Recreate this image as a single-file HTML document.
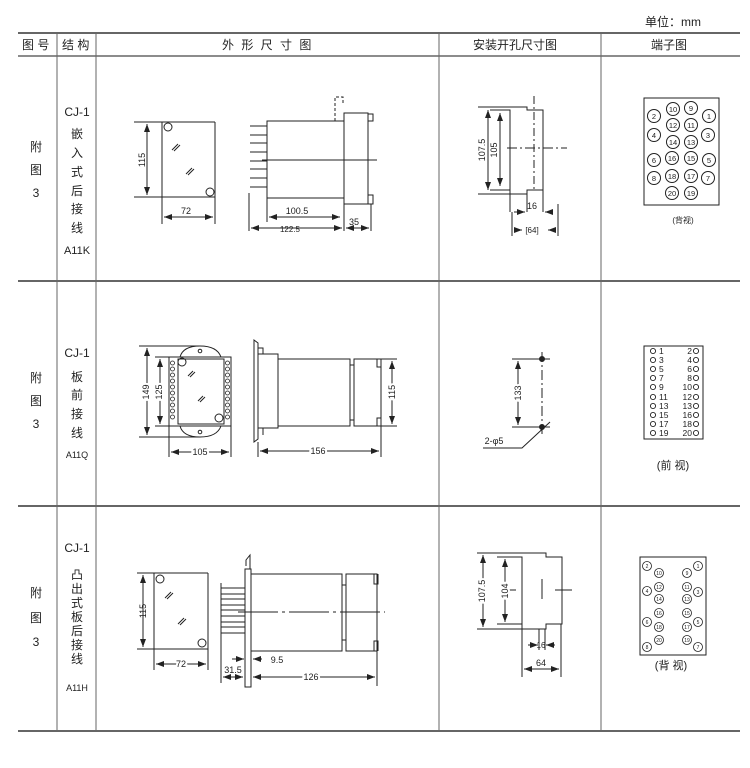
<!DOCTYPE html>
<html><head><meta charset="utf-8"><style>
html,body{margin:0;padding:0;background:#fff;}
svg{display:block;}
text{font-family:"Liberation Sans","Noto Sans CJK SC",sans-serif;fill:#222;}
</style></head><body>
<svg width="750" height="768" viewBox="0 0 750 768" xmlns="http://www.w3.org/2000/svg">
<defs>
<marker id="a" markerWidth="8" markerHeight="6" refX="8" refY="3" orient="auto-start-reverse" markerUnits="userSpaceOnUse"><path d="M0,0 L8,3 L0,6z" fill="#222"/></marker>
</defs>
<!-- table -->
<g stroke="#666" fill="none">
<line x1="18" y1="33" x2="740" y2="33" stroke-width="2"/>
<line x1="18" y1="56" x2="740" y2="56" stroke-width="1.5"/>
<line x1="18" y1="281" x2="740" y2="281" stroke-width="2"/>
<line x1="18" y1="506" x2="740" y2="506" stroke-width="2"/>
<line x1="18" y1="731" x2="740" y2="731" stroke-width="2"/>
<line x1="57" y1="33" x2="57" y2="731"/>
<line x1="96" y1="33" x2="96" y2="731"/>
<line x1="439" y1="33" x2="439" y2="731"/>
<line x1="601" y1="33" x2="601" y2="731"/>
</g>
<g font-size="12">
<text x="645" y="26">单位：mm</text>
<text x="22" y="49">图 号</text>
<text x="62" y="49">结 构</text>
<text x="222" y="49" letter-spacing="2">外 形 尺 寸 图</text>
<text x="473" y="49">安装开孔尺寸图</text>
<text x="651" y="49">端子图</text>
</g>
<!-- left columns -->
<g font-size="12" text-anchor="middle">
<text x="36" y="151">附</text><text x="36" y="174">图</text><text x="36" y="197">3</text>
<text x="77" y="116">CJ-1</text>
<text x="77" y="138">嵌</text><text x="77" y="157">入</text><text x="77" y="176">式</text><text x="77" y="195">后</text><text x="77" y="213">接</text><text x="77" y="232">线</text>
<text x="77" y="254" font-size="11">A11K</text>

<text x="36" y="382">附</text><text x="36" y="405">图</text><text x="36" y="428">3</text>
<text x="77" y="357">CJ-1</text>
<text x="77" y="381">板</text><text x="77" y="399">前</text><text x="77" y="418">接</text><text x="77" y="437">线</text>
<text x="77" y="458" font-size="9">A11Q</text>

<text x="36" y="597">附</text><text x="36" y="622">图</text><text x="36" y="646">3</text>
<text x="77" y="552">CJ-1</text>
<text x="77" y="579">凸</text><text x="77" y="593">出</text><text x="77" y="607">式</text><text x="77" y="621">板</text><text x="77" y="635">后</text><text x="77" y="649">接</text><text x="77" y="663">线</text>
<text x="77" y="691" font-size="9">A11H</text>
</g>

<g stroke="#222" fill="none" stroke-width="1">
<!-- ROW1 front -->
<line x1="134" y1="122" x2="215" y2="122"/><line x1="134" y1="197" x2="215" y2="197"/>
<line x1="162" y1="122" x2="162" y2="224"/><line x1="215" y1="122" x2="215" y2="224"/>
<circle cx="168" cy="127" r="4"/><circle cx="210" cy="192" r="4"/>
<path d="M172,150 l6,-6 M174,151 l6,-6 M186,174 l6,-6 M188,175 l6,-6"/>
<line x1="147" y1="124" x2="147" y2="195" marker-start="url(#a)" marker-end="url(#a)"/>
<line x1="164" y1="217" x2="213" y2="217" marker-start="url(#a)" marker-end="url(#a)"/>
<!-- ROW1 side -->
<path d="M250,126h17 M250,135h17 M250,143h17 M250,152h17 M250,161h17 M250,169h17 M250,178h17 M250,187h17"/>
<rect x="267" y="121" width="77" height="77"/>
<rect x="344" y="113" width="24" height="91"/>
<path d="M368,114h5v7h-5 M368,195h5v9h-5"/>
<path d="M335,121v-24h8v6" stroke-dasharray="3,2"/>
<line x1="262" y1="160" x2="377" y2="160"/>
<line x1="249" y1="193" x2="249" y2="231"/><line x1="267" y1="198" x2="267" y2="222"/>
<line x1="344" y1="204" x2="344" y2="231"/><line x1="371" y1="204" x2="371" y2="231"/>
<line x1="269" y1="217" x2="340" y2="217" marker-start="url(#a)" marker-end="url(#a)"/>
<line x1="251" y1="228" x2="342" y2="228" marker-start="url(#a)" marker-end="url(#a)"/>
<line x1="346" y1="228" x2="369" y2="228" marker-start="url(#a)" marker-end="url(#a)"/>
<!-- ROW1 cutout -->
<path d="M478,107h49v3h16v80h-16v4h-49"/>
<path d="M490,110h20v80h-20"/>
<line x1="510" y1="110" x2="510" y2="212"/><line x1="527" y1="194" x2="527" y2="212"/>
<line x1="543" y1="190" x2="543" y2="212"/>
<line x1="534" y1="96" x2="534" y2="190" stroke-dasharray="8,3,2,3"/>
<line x1="507" y1="148" x2="567" y2="148" stroke-dasharray="10,3,2,3"/>
<line x1="488" y1="110" x2="488" y2="190" marker-start="url(#a)" marker-end="url(#a)"/>
<line x1="500" y1="113" x2="500" y2="186" marker-start="url(#a)" marker-end="url(#a)"/>
<line x1="514" y1="212" x2="525" y2="212" marker-end="url(#a)"/><line x1="553" y1="212" x2="545" y2="212" marker-end="url(#a)"/>
<line x1="512" y1="212" x2="512" y2="236"/><line x1="558" y1="204" x2="558" y2="236"/>
<line x1="514" y1="230" x2="522" y2="230" marker-end="url(#a)"/><line x1="556" y1="230" x2="548" y2="230" marker-end="url(#a)"/>
<!-- ROW1 terminal -->
<rect x="644" y="98" width="75" height="107"/>
<!-- ROW2 front -->
<line x1="139" y1="346" x2="200" y2="346"/><line x1="139" y1="437" x2="200" y2="437"/>
<line x1="147" y1="348" x2="147" y2="435" marker-start="url(#a)" marker-end="url(#a)"/>
<line x1="160" y1="359" x2="160" y2="424" marker-start="url(#a)" marker-end="url(#a)"/>
<line x1="155" y1="357" x2="169" y2="357"/><line x1="155" y1="426" x2="169" y2="426"/>
<rect x="169" y="357" width="62" height="69"/>
<rect x="178" y="359" width="46" height="65"/>
<path d="M180,357 Q183,346 200,346 Q217,346 221,357"/>
<path d="M180,426 Q183,437 200,437 Q217,437 221,426"/>
<circle cx="200" cy="351" r="1.8"/><circle cx="200" cy="432" r="1.8"/>
<circle cx="182" cy="362" r="4"/><circle cx="219" cy="418" r="4"/>
<path d="M188,376 l5,-5 M190,377 l5,-5 M198,401 l5,-5 M200,402 l5,-5"/>
<g stroke-width="0.8">
<circle cx="172.5" cy="363" r="2"/><circle cx="172.5" cy="369" r="2"/><circle cx="172.5" cy="375" r="2"/><circle cx="172.5" cy="381" r="2"/><circle cx="172.5" cy="387" r="2"/><circle cx="172.5" cy="393" r="2"/><circle cx="172.5" cy="399" r="2"/><circle cx="172.5" cy="405" r="2"/><circle cx="172.5" cy="411" r="2"/><circle cx="172.5" cy="417" r="2"/>
<circle cx="227.5" cy="363" r="2"/><circle cx="227.5" cy="369" r="2"/><circle cx="227.5" cy="375" r="2"/><circle cx="227.5" cy="381" r="2"/><circle cx="227.5" cy="387" r="2"/><circle cx="227.5" cy="393" r="2"/><circle cx="227.5" cy="399" r="2"/><circle cx="227.5" cy="405" r="2"/><circle cx="227.5" cy="411" r="2"/><circle cx="227.5" cy="417" r="2"/>
</g>
<line x1="169" y1="426" x2="169" y2="457"/><line x1="231" y1="426" x2="231" y2="457"/>
<line x1="171" y1="452" x2="229" y2="452" marker-start="url(#a)" marker-end="url(#a)"/>
<!-- ROW2 side -->
<path d="M254,340 l4,3 v96 l-4,3z"/>
<path d="M258,348h5v6 M258,428h5v7"/>
<rect x="258" y="354" width="20" height="74"/>
<rect x="278" y="359" width="72" height="67"/>
<rect x="354" y="359" width="27" height="67"/>
<path d="M350,365h4 M350,420h4 M377,359v8h4 M377,426v-8h4"/>
<line x1="381" y1="359" x2="397" y2="359"/><line x1="381" y1="426" x2="397" y2="426"/>
<line x1="392" y1="361" x2="392" y2="424" marker-start="url(#a)" marker-end="url(#a)"/>
<line x1="258" y1="442" x2="258" y2="457"/><line x1="381" y1="426" x2="381" y2="457"/>
<line x1="260" y1="451" x2="379" y2="451" marker-start="url(#a)" marker-end="url(#a)"/>
<!-- ROW2 cutout -->
<line x1="542" y1="352" x2="542" y2="437" stroke-dasharray="10,3,2,3"/>
<line x1="512" y1="359" x2="550" y2="359"/><line x1="512" y1="427" x2="550" y2="427"/>
<circle cx="542" cy="359" r="2.5" fill="#222"/><circle cx="542" cy="427" r="2.5" fill="#222"/>
<line x1="518" y1="361" x2="518" y2="425" marker-start="url(#a)" marker-end="url(#a)"/>
<path d="M483,448h39l28,-26"/>
<!-- ROW2 terminal -->
<rect x="644" y="346" width="59" height="93"/>
<!-- ROW3 front -->
<line x1="137" y1="573" x2="208" y2="573"/><line x1="137" y1="649" x2="208" y2="649"/>
<line x1="154" y1="573" x2="154" y2="670"/><line x1="208" y1="573" x2="208" y2="670"/>
<circle cx="160" cy="579" r="4"/><circle cx="202" cy="643" r="4"/>
<path d="M165,598 l6,-6 M167,599 l6,-6 M178,624 l6,-6 M180,625 l6,-6"/>
<line x1="143" y1="575" x2="143" y2="647" marker-start="url(#a)" marker-end="url(#a)"/>
<line x1="156" y1="664" x2="206" y2="664" marker-start="url(#a)" marker-end="url(#a)"/>
<!-- ROW3 side -->
<path d="M221,588h24 M221,594h24 M221,599h24 M221,605h24 M221,610h24 M221,616h24 M221,622h24 M221,627h24 M221,633h24"/>
<line x1="221" y1="583" x2="221" y2="683"/>
<rect x="245" y="569" width="6" height="118"/>
<path d="M246,566 v-6 l4,-5 v14" />
<rect x="251" y="574" width="91" height="77"/>
<rect x="346" y="574" width="31" height="77"/>
<path d="M342,585h4 M342,640h4 M374,574v10h4v-10 M374,651v-10h4v10"/>
<line x1="238" y1="612" x2="385" y2="612" stroke-dasharray="40,4,3,4"/>
<line x1="377" y1="651" x2="377" y2="686"/>
<line x1="232" y1="659" x2="244" y2="659" marker-end="url(#a)"/><line x1="262" y1="659" x2="253" y2="659" marker-end="url(#a)"/>
<line x1="223" y1="677" x2="243" y2="677" marker-start="url(#a)" marker-end="url(#a)"/>
<line x1="253" y1="677" x2="375" y2="677" marker-start="url(#a)" marker-end="url(#a)"/>
<!-- ROW3 cutout -->
<path d="M477,553h69v4h16v67h-16v5h-69"/>
<path d="M497,557h25v67h-25"/>
<line x1="522" y1="557" x2="522" y2="677"/><line x1="561" y1="624" x2="561" y2="677"/>
<line x1="539" y1="629" x2="539" y2="650"/><line x1="545" y1="629" x2="545" y2="650"/>
<path d="M502,590h14 M555,590h17 M542,579v20"/>
<line x1="483" y1="555" x2="483" y2="627" marker-start="url(#a)" marker-end="url(#a)"/>
<line x1="505" y1="559" x2="505" y2="622" marker-start="url(#a)" marker-end="url(#a)"/>
<line x1="528" y1="645" x2="538" y2="645" marker-end="url(#a)"/><line x1="555" y1="645" x2="546" y2="645" marker-end="url(#a)"/>
<line x1="524" y1="669" x2="559" y2="669" marker-start="url(#a)" marker-end="url(#a)"/>
<!-- ROW3 terminal -->
<rect x="640" y="557" width="66" height="98"/>
</g>

<!-- dimension labels -->
<g font-size="9" text-anchor="middle">
<text transform="translate(145,160) rotate(-90)">115</text>
<text x="186" y="214">72</text>
<text x="297" y="214">100.5</text>
<text x="290" y="232" font-size="8">122.5</text>
<text x="354" y="225">35</text>
<text transform="translate(485,150) rotate(-90)">107.5</text>
<text transform="translate(497,150) rotate(-90)">105</text>
<text x="532" y="209">16</text>
<text x="532" y="233" font-size="8">[64]</text>
<text x="683" y="223" font-size="8">(背视)</text>

<text transform="translate(149,392) rotate(-90)" fill="#fff" stroke="#fff" stroke-width="4">149</text>
<text transform="translate(149,392) rotate(-90)">149</text>
<text transform="translate(162,392) rotate(-90)" fill="#fff" stroke="#fff" stroke-width="4">125</text>
<text transform="translate(162,392) rotate(-90)">125</text>
<text x="200" y="455" fill="#fff" stroke="#fff" stroke-width="4">105</text><text x="200" y="455">105</text>
<text x="318" y="454" fill="#fff" stroke="#fff" stroke-width="4">156</text><text x="318" y="454">156</text>
<text transform="translate(395,392) rotate(-90)" fill="#fff" stroke="#fff" stroke-width="4">115</text>
<text transform="translate(395,392) rotate(-90)">115</text>
<text transform="translate(521,393) rotate(-90)" fill="#fff" stroke="#fff" stroke-width="4">133</text>
<text transform="translate(521,393) rotate(-90)">133</text>
<text x="494" y="444">2-φ5</text>
<text x="673" y="469" font-size="11">(前 视)</text>

<text transform="translate(146,611) rotate(-90)">115</text>
<text x="181" y="667" fill="#fff" stroke="#fff" stroke-width="4">72</text><text x="181" y="667">72</text>
<text x="277" y="663">9.5</text>
<text x="233" y="673">31.5</text>
<text x="311" y="680" fill="#fff" stroke="#fff" stroke-width="4">126</text><text x="311" y="680">126</text>
<text transform="translate(485,591) rotate(-90)" fill="#fff" stroke="#fff" stroke-width="4">107.5</text>
<text transform="translate(485,591) rotate(-90)">107.5</text>
<text transform="translate(508,591) rotate(-90)" fill="#fff" stroke="#fff" stroke-width="4">104</text>
<text transform="translate(508,591) rotate(-90)">104</text>
<text x="541" y="648" font-size="8">16</text>
<text x="541" y="666">64</text>
<text x="671" y="669" font-size="11">(背 视)</text>
</g>

<!-- row1 terminals -->
<g font-size="7.5" text-anchor="middle" stroke="#222" fill="none">
<g>
<circle cx="673" cy="109" r="6.5"/><circle cx="691" cy="108" r="6.5"/>
<circle cx="654" cy="116" r="6.5"/><circle cx="709" cy="116" r="6.5"/>
<circle cx="673" cy="125" r="6.5"/><circle cx="691" cy="125" r="6.5"/>
<circle cx="654" cy="135" r="6.5"/><circle cx="708" cy="135" r="6.5"/>
<circle cx="673" cy="142" r="6.5"/><circle cx="691" cy="142" r="6.5"/>
<circle cx="654" cy="160" r="6.5"/><circle cx="672" cy="158" r="6.5"/><circle cx="691" cy="158" r="6.5"/><circle cx="709" cy="160" r="6.5"/>
<circle cx="654" cy="178" r="6.5"/><circle cx="672" cy="176" r="6.5"/><circle cx="691" cy="176" r="6.5"/><circle cx="708" cy="178" r="6.5"/>
<circle cx="672" cy="193" r="6.5"/><circle cx="691" cy="193" r="6.5"/>
</g>
</g>
<g font-size="7.5" text-anchor="middle">
<text x="673" y="112">10</text><text x="691" y="111">9</text>
<text x="654" y="119">2</text><text x="709" y="119">1</text>
<text x="673" y="128">12</text><text x="691" y="128">11</text>
<text x="654" y="138">4</text><text x="708" y="138">3</text>
<text x="673" y="145">14</text><text x="691" y="145">13</text>
<text x="654" y="163">6</text><text x="672" y="161">16</text><text x="691" y="161">15</text><text x="709" y="163">5</text>
<text x="654" y="181">8</text><text x="672" y="179">18</text><text x="691" y="179">17</text><text x="708" y="181">7</text>
<text x="672" y="196">20</text><text x="691" y="196">19</text>
</g>

<!-- row2 terminals -->
<g stroke="#222" fill="none" stroke-width="0.9">
<circle cx="653" cy="351" r="2.6"/><circle cx="653" cy="360" r="2.6"/><circle cx="653" cy="369" r="2.6"/><circle cx="653" cy="378" r="2.6"/><circle cx="653" cy="387" r="2.6"/><circle cx="653" cy="397" r="2.6"/><circle cx="653" cy="406" r="2.6"/><circle cx="653" cy="415" r="2.6"/><circle cx="653" cy="424" r="2.6"/><circle cx="653" cy="433" r="2.6"/>
<circle cx="696" cy="351" r="2.6"/><circle cx="696" cy="360" r="2.6"/><circle cx="696" cy="369" r="2.6"/><circle cx="696" cy="378" r="2.6"/><circle cx="696" cy="387" r="2.6"/><circle cx="696" cy="397" r="2.6"/><circle cx="696" cy="406" r="2.6"/><circle cx="696" cy="415" r="2.6"/><circle cx="696" cy="424" r="2.6"/><circle cx="696" cy="433" r="2.6"/>
</g>
<g font-size="8.5">
<text x="659" y="354">1</text><text x="659" y="363">3</text><text x="659" y="372">5</text><text x="659" y="381">7</text><text x="659" y="390">9</text><text x="659" y="400">11</text><text x="659" y="409">13</text><text x="659" y="418">15</text><text x="659" y="427">17</text><text x="659" y="436">19</text>
</g>
<g font-size="8.5" text-anchor="end">
<text x="692" y="354">2</text><text x="692" y="363">4</text><text x="692" y="372">6</text><text x="692" y="381">8</text><text x="692" y="390">10</text><text x="692" y="400">12</text><text x="692" y="409">13</text><text x="692" y="418">16</text><text x="692" y="427">18</text><text x="692" y="436">20</text>
</g>

<!-- row3 terminals -->
<g stroke="#222" fill="none" stroke-width="0.8">
<circle cx="647" cy="566" r="4.5"/><circle cx="659" cy="573" r="4.5"/><circle cx="687" cy="573" r="4.5"/><circle cx="698" cy="566" r="4.5"/>
<circle cx="647" cy="591" r="4.5"/><circle cx="659" cy="587" r="4.5"/><circle cx="687" cy="587" r="4.5"/><circle cx="698" cy="592" r="4.5"/>
<circle cx="659" cy="599" r="4.5"/><circle cx="687" cy="599" r="4.5"/>
<circle cx="659" cy="613" r="4.5"/><circle cx="687" cy="613" r="4.5"/>
<circle cx="647" cy="622" r="4.5"/><circle cx="659" cy="627" r="4.5"/><circle cx="687" cy="627" r="4.5"/><circle cx="698" cy="622" r="4.5"/>
<circle cx="647" cy="647" r="4.5"/><circle cx="659" cy="640" r="4.5"/><circle cx="687" cy="640" r="4.5"/><circle cx="698" cy="647" r="4.5"/>
</g>
<g font-size="5" text-anchor="middle">
<text x="647" y="568">2</text><text x="659" y="575">10</text><text x="687" y="575">9</text><text x="698" y="568">1</text>
<text x="647" y="593">4</text><text x="659" y="589">12</text><text x="687" y="589">11</text><text x="698" y="594">3</text>
<text x="659" y="601">14</text><text x="687" y="601">13</text>
<text x="659" y="615">16</text><text x="687" y="615">15</text>
<text x="647" y="624">6</text><text x="659" y="629">18</text><text x="687" y="629">17</text><text x="698" y="624">5</text>
<text x="647" y="649">8</text><text x="659" y="642">20</text><text x="687" y="642">19</text><text x="698" y="649">7</text>
</g>
</svg>
</body></html>
